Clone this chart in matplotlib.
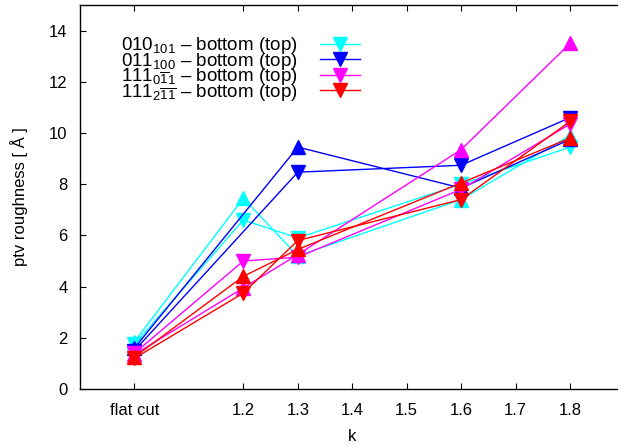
import matplotlib
matplotlib.use("Agg")
import matplotlib.pyplot as plt

plt.rcParams['font.family'] = ['Liberation Sans', 'DejaVu Sans']
plt.rcParams['mathtext.fontset'] = 'custom'
plt.rcParams['mathtext.rm'] = 'Liberation Sans'
plt.rcParams['mathtext.it'] = 'Liberation Sans'

# k values (1.0 stands for the flat cut)
k_full = [1.0, 1.2, 1.3, 1.6, 1.8]
k_011 = [1.0, 1.3, 1.6, 1.8]

# ptv roughness [Å]: bottom and top surfaces
r010_bottom = [1.75, 6.6, 5.9, 8.0, 9.45]
r010_top = [1.85, 7.45, 5.2, 7.4, 9.9]
r011_bottom = [1.5, 8.47, 8.74, 10.6]
r011_top = [1.6, 9.45, 7.85, 9.75]
r111a_bottom = [1.4, 5.0, 5.15, 7.8, 10.35]
r111a_top = [1.35, 3.95, 5.25, 9.35, 13.5]
r111b_bottom = [1.2, 3.75, 5.8, 7.4, 10.45]
r111b_top = [1.25, 4.4, 5.45, 8.05, 9.8]

labels = [
    r"$\mathrm{010}_{\mathrm{101}}$ – bottom (top)",
    r"$\mathrm{011}_{\mathrm{100}}$ – bottom (top)",
    r"$\mathrm{111}_{\mathrm{0\overline{1}1}}$ – bottom (top)",
    r"$\mathrm{111}_{\mathrm{2\overline{1}\overline{1}}}$ – bottom (top)",
]
colors = ["#00ffff", "#0000ff", "#ff00ff", "#ff0000"]

series = [
    (k_full, r010_bottom, r010_top),
    (k_011, r011_bottom, r011_top),
    (k_full, r111a_bottom, r111a_top),
    (k_full, r111b_bottom, r111b_top),
]

x_ticks = [1.0, 1.2, 1.3, 1.4, 1.5, 1.6, 1.7, 1.8]
x_ticklabels = ["flat cut", "1.2", "1.3", "1.4", "1.5", "1.6", "1.7", "1.8"]
y_ticks = [0, 2, 4, 6, 8, 10, 12, 14]

fig = plt.figure(figsize=(6.18, 4.48), dpi=100)
ax = fig.add_axes([80 / 618, 59 / 448, 544.5 / 618, 384 / 448])

for (xs, bottom, top), c, lab in zip(series, colors, labels):
    ax.plot(xs, bottom, color=c, lw=1.0, marker="v", ms=10, label=lab)
    ax.plot(xs, top, color=c, lw=1.0, marker="^", ms=10)

ax.set_xlim(0.9, 1.9)
ax.set_ylim(0, 15)
ax.set_xticks(x_ticks)
ax.set_xticklabels(x_ticklabels)
ax.set_yticks(y_ticks)
ax.tick_params(direction="in", top=True, right=True, length=4, width=0.8,
               labelsize=12, pad=10)
ax.tick_params(axis="y", pad=9)
for s in ax.spines.values():
    s.set_linewidth(1.0)

ax.set_xlabel("k", fontsize=12, labelpad=8)
ax.set_ylabel("ptv roughness [ Å ]", fontsize=12, labelpad=15)

leg = ax.legend(loc="upper left", bbox_to_anchor=(0.052, 0.955), frameon=False,
                markerfirst=False, fontsize=13.5, labelspacing=-0.3,
                handlelength=2.15, handletextpad=1.15, borderpad=0.2)

fig.savefig("out.png", dpi=100)
